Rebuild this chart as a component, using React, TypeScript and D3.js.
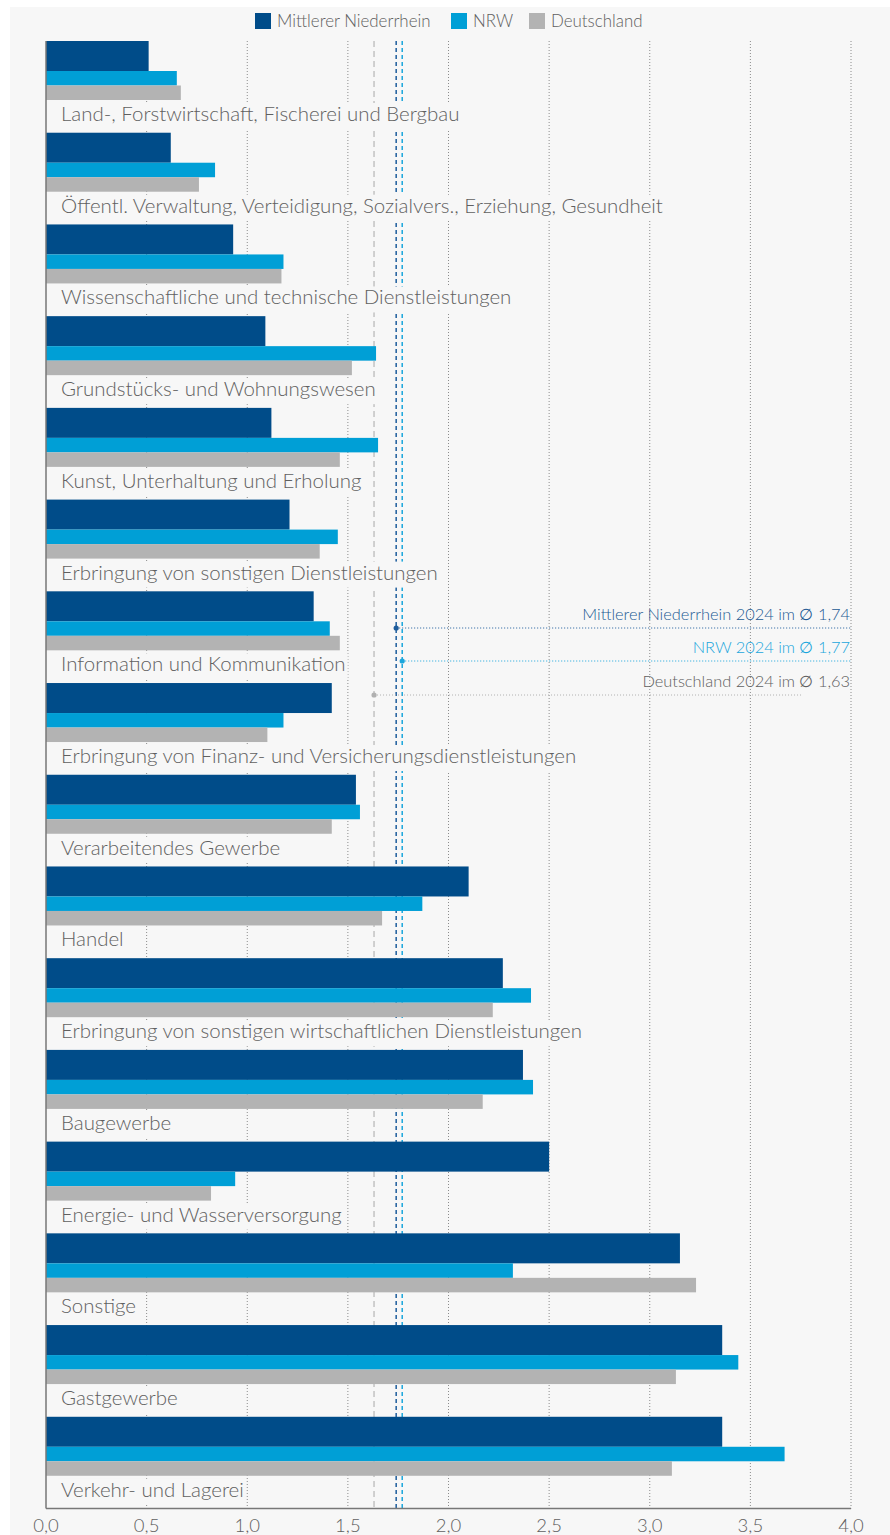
import React from "react";
import * as d3 from "d3";

const categories = [
  "Land-, Forstwirtschaft, Fischerei und Bergbau",
  "Öffentl. Verwaltung, Verteidigung, Sozialvers., Erziehung, Gesundheit",
  "Wissenschaftliche und technische Dienstleistungen",
  "Grundstücks- und Wohnungswesen",
  "Kunst, Unterhaltung und Erholung",
  "Erbringung von sonstigen Dienstleistungen",
  "Information und Kommunikation",
  "Erbringung von Finanz- und Versicherungsdienstleistungen",
  "Verarbeitendes Gewerbe",
  "Handel",
  "Erbringung von sonstigen wirtschaftlichen Dienstleistungen",
  "Baugewerbe",
  "Energie- und Wasserversorgung",
  "Sonstige",
  "Gastgewerbe",
  "Verkehr- und Lagerei",
];

const mittlererNiederrhein = [0.51, 0.62, 0.93, 1.09, 1.12, 1.21, 1.33, 1.42, 1.54, 2.1, 2.27, 2.37, 2.5, 3.15, 3.36, 3.36];
const nrw = [0.65, 0.84, 1.18, 1.64, 1.65, 1.45, 1.41, 1.18, 1.56, 1.87, 2.41, 2.42, 0.94, 2.32, 3.44, 3.67];
const deutschland = [0.67, 0.76, 1.17, 1.52, 1.46, 1.36, 1.46, 1.1, 1.42, 1.67, 2.22, 2.17, 0.82, 3.23, 3.13, 3.11];

const seriesNames = ["Mittlerer Niederrhein", "NRW", "Deutschland"];
const averages = [1.74, 1.77, 1.63];
const averageLabels = [
  "Mittlerer Niederrhein 2024 im ∅ 1,74",
  "NRW 2024 im ∅ 1,77",
  "Deutschland 2024 im ∅ 1,63",
];
const xTicks = [0, 0.5, 1, 1.5, 2, 2.5, 3, 3.5, 4];

const COLORS = ["#004c89", "#009fd6", "#b3b3b3"];
const AVG_COLORS = ["#1d5c9c", "#1aa6dc", "#c2c2c2"];
const ANNOT_TEXT = ["#235a93", "#1ba6dc", "#606060"];
const TEXT = "#606060";
const BG = "#f7f7f7";
const FONT = "Lato, 'Noto Sans', sans-serif";
const WEIGHT = 300;

const W = 890;
const H = 1535;
const top = 41;
const bottom = 1508.5;

export default function App() {
  const x = d3.scaleLinear().domain([0, 4]).range([46, 851]);
  const y = d3.scaleBand<string>().domain(categories).range([top, bottom]).paddingInner(0).paddingOuter(0);
  const series = [mittlererNiederrhein, nrw, deutschland];
  const sub = [
    [0, 30],
    [30, 44.5],
    [44.5, 59],
  ];
  const fmt = (v: number) => d3.format(".1f")(v).replace(".", ",");

  const annotY = [628, 661, 695];
  const annotEnd = [851, 851, 803];

  return (
    <svg
      width={W}
      height={H}
      style={{ position: "absolute", left: 0, top: 0, display: "block" }}
      fontFamily={FONT}
      fontWeight={WEIGHT}
    >
      <rect x={0} y={0} width={W} height={H} fill="#ffffff" />
      <rect x={10} y={7} width={W - 10} height={H - 7} fill={BG} />

      {/* legend */}
      <g>
        {seriesNames.map((n, i) => {
          const lx = [255, 451, 529][i];
          return (
            <g key={n}>
              <rect x={lx} y={13} width={16} height={16} fill={COLORS[i]} />
              <text x={lx + 22} y={27} fontSize={16.9} fill={TEXT}>
                {n}
              </text>
            </g>
          );
        })}
      </g>

      {/* gridlines */}
      {xTicks.slice(1).map((t) => (
        <line
          key={t}
          x1={x(t)}
          x2={x(t)}
          y1={top}
          y2={bottom}
          stroke="#8c8c8c"
          strokeWidth={1}
          strokeDasharray="1,2"
        />
      ))}

      {/* average lines */}
      {averages.map((a, i) => (
        <line
          key={i}
          x1={x(a)}
          x2={x(a)}
          y1={top}
          y2={bottom}
          stroke={AVG_COLORS[i]}
          strokeWidth={1.5}
          strokeDasharray={i === 2 ? "6,4" : "4,3"}
        />
      ))}

      {/* bars */}
      {categories.map((c, ci) => {
        const y0 = y(c) as number;
        return (
          <g key={c}>
            {series.map((s, si) => (
              <rect
                key={si}
                x={x(0)}
                y={y0 + sub[si][0]}
                width={x(s[ci]) - x(0)}
                height={sub[si][1] - sub[si][0]}
                fill={COLORS[si]}
              />
            ))}
          </g>
        );
      })}

      {/* labels */}
      {categories.map((c) => {
        const y0 = y(c) as number;
        return <Label key={c} text={c} x={61} y={y0 + 80} boxY={y0 + 62} />;
      })}

      {/* axes */}
      <line x1={x(0)} x2={x(0)} y1={top} y2={bottom} stroke="#777" strokeWidth={1.5} />
      <line x1={x(0)} x2={x(4)} y1={bottom} y2={bottom} stroke="#777" strokeWidth={1.5} />
      {xTicks.map((t) => (
        <text key={t} x={x(t)} y={1532} textAnchor="middle" fontSize={18.5} fill={TEXT}>
          {fmt(t)}
        </text>
      ))}

      {/* annotations */}
      {averages.map((a, i) => {
        const col = i === 2 ? "#b0b0b0" : AVG_COLORS[i];
        return (
          <g key={i}>
            <line
              x1={x(a)}
              x2={annotEnd[i]}
              y1={annotY[i]}
              y2={annotY[i]}
              stroke={col}
              strokeWidth={1}
              strokeDasharray="1,2"
            />
            <circle cx={x(a)} cy={annotY[i]} r={2.6} fill={col} />
            <text x={850} y={annotY[i] - 8} textAnchor="end" fontSize={16.4} fill={ANNOT_TEXT[i]}>
              {averageLabels[i]}
            </text>
          </g>
        );
      })}
    </svg>
  );
}

function Label({ text, x, y, boxY }: { text: string; x: number; y: number; boxY: number }) {
  const ref = React.useRef<SVGTextElement>(null);
  const [w, setW] = React.useState(0);
  React.useLayoutEffect(() => {
    if (ref.current) setW(ref.current.getComputedTextLength());
  }, [text]);
  return (
    <g>
      <rect x={x - 3} y={boxY} width={w + 5} height={26} fill={BG} />
      <text ref={ref} x={x} y={y} fontSize={20.45} fill={TEXT}>
        {text}
      </text>
    </g>
  );
}
